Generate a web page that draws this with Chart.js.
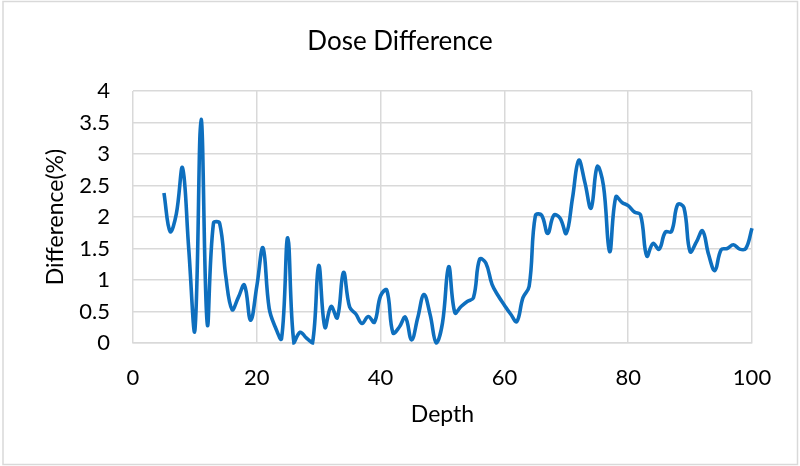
<!DOCTYPE html>
<html lang="en">
<head>
    <meta charset="UTF-8">
    <script src="https://cdn.jsdelivr.net/npm/chart.js"></script>
    <title>Dose Difference</title>
    <style>
        body { margin: 0; background: #fff; }
        #doseChart { display: block; }
    </style>
</head>
<body>

<canvas id="doseChart" width="800" height="466"></canvas>

<script>
    // depth values (x) and dose difference in % (y)
    const depth = [5, 6, 7, 8, 9, 10, 11, 12, 13, 14, 15, 16, 17, 18, 19, 20,
        21, 22, 23, 24, 25, 26, 27, 28, 29, 30, 31, 32, 33, 34, 35, 36, 37, 38, 39, 40,
        41, 42, 43, 44, 45, 46, 47, 48, 49, 50, 51, 52, 53, 54, 55, 56, 57, 58, 59, 60,
        61, 62, 63, 64, 65, 66, 67, 68, 69, 70, 71, 72, 73, 74, 75, 76, 77, 78, 79, 80,
        81, 82, 83, 84, 85, 86, 87, 88, 89, 90, 91, 92, 93, 94, 95, 96, 97, 98, 99, 100];
    const difference = [2.38, 1.77, 2.05, 2.78, 1.5, 0.2, 3.55, 0.3, 1.9, 1.9, 1.05, 0.53, 0.72, 0.92, 0.36, 0.9,
        1.51, 0.55, 0.25, 0.07, 1.67, 0, 0.17, 0.08, 0, 1.23, 0.25, 0.58, 0.4, 1.12, 0.57, 0.46, 0.31, 0.42, 0.33, 0.75,
        0.84, 0.16, 0.25, 0.41, 0.05, 0.4, 0.77, 0.45, 0, 0.32, 1.21, 0.48, 0.58, 0.66, 0.72, 1.33, 1.27, 0.93, 0.75, 0.6,
        0.46, 0.34, 0.72, 0.9, 2.02, 2.03, 1.74, 2.03, 1.98, 1.74, 2.3, 2.9, 2.55, 2.14, 2.8, 2.5, 1.45, 2.32, 2.23, 2.18,
        2.08, 2.03, 1.38, 1.58, 1.49, 1.76, 1.77, 2.2, 2.15, 1.45, 1.6, 1.78, 1.4, 1.15, 1.48, 1.5, 1.56, 1.49, 1.5, 1.82];

    const xTicks = [0, 20, 40, 60, 80, 100];
    const yTicks = [0, 0.5, 1, 1.5, 2, 2.5, 3, 3.5, 4];

    const FONT = 'Lato, "Liberation Sans", sans-serif';
    const GRID = '#d9d9d9';

    // light frame round the whole chart, like the Excel chart area
    const frame = {
        id: 'frame',
        beforeDraw(chart) {
            const ctx = chart.ctx;
            ctx.save();
            ctx.fillStyle = '#fff';
            ctx.fillRect(0, 0, chart.width, chart.height);
            ctx.strokeStyle = GRID;
            ctx.lineWidth = 1.5;
            ctx.strokeRect(3, 1.5, chart.width - 5.5, chart.height - 3);
            ctx.restore();
        }
    };

    new Chart(document.getElementById('doseChart'), {
        type: 'line',
        data: {
            datasets: [{
                label: 'Dose Difference',
                data: depth.map((d, i) => ({ x: d, y: difference[i] })),
                borderColor: '#0e6fbe',
                borderWidth: 3.6,
                pointRadius: 0,
                tension: 0.4,
                clip: 4,
                fill: false
            }]
        },
        options: {
            responsive: false,
            animation: false,
            layout: { padding: 0 },
            plugins: {
                legend: { display: false },
                tooltip: { enabled: false },
                title: {
                    display: true,
                    text: 'Dose Difference',
                    color: '#000',
                    font: { family: FONT, size: 26, weight: 'normal', lineHeight: 1.2 },
                    padding: { top: 26, bottom: 33.8 }
                }
            },
            scales: {
                x: {
                    type: 'linear',
                    min: 0,
                    max: 100,
                    afterBuildTicks: s => { s.ticks = xTicks.map(v => ({ value: v })); },
                    afterFit: s => { s.height = 466 - 343; },
                    grid: { color: GRID, lineWidth: 1.5, drawTicks: false },
                    border: { color: GRID, width: 1.5 },
                    ticks: {
                        color: '#000',
                        padding: 22,
                        maxRotation: 0,
                        font: { family: FONT, size: 22 }
                    },
                    title: {
                        display: true,
                        text: 'Depth',
                        color: '#000',
                        font: { family: FONT, size: 23, lineHeight: 1.2 },
                        padding: { top: 0, bottom: 38 }
                    }
                },
                y: {
                    min: 0,
                    max: 4,
                    afterBuildTicks: s => { s.ticks = yTicks.map(v => ({ value: v })); },
                    afterFit: s => { s.width = 133; },
                    grid: { color: GRID, lineWidth: 1.5, drawTicks: false },
                    border: { display: false },
                    ticks: {
                        color: '#000',
                        padding: 23,
                        font: { family: FONT, size: 22 },
                        callback: v => String(v)
                    },
                    title: {
                        display: true,
                        text: 'Difference(%)',
                        color: '#000',
                        font: { family: FONT, size: 23, lineHeight: 1.2 },
                        padding: { top: 42, bottom: 0 }
                    }
                },
                // empty axis on the right, only to keep the plot area's right margin
                yRight: {
                    position: 'right',
                    display: true,
                    grid: { display: false },
                    border: { display: false },
                    ticks: { display: false },
                    afterFit: s => { s.width = 48; }
                }
            }
        },
        plugins: [frame]
    });
</script>
</body>
</html>
